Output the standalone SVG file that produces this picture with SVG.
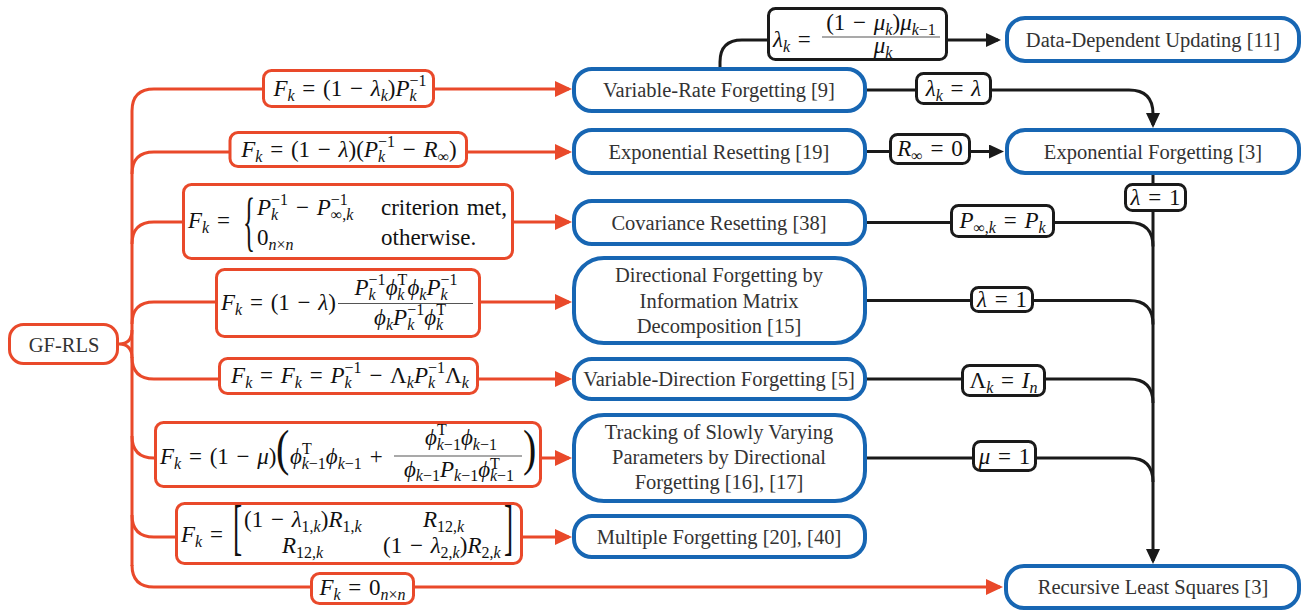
<svg xmlns="http://www.w3.org/2000/svg" width="1310" height="612" viewBox="0 0 1310 612">
<defs>
<style>
.bn{fill:#fff;stroke:#1766b3;stroke-width:4}
.on{fill:#fff;stroke:#e9492a;stroke-width:3}
.lb{fill:#fff;stroke:#1a1a1a;stroke-width:3}
.oc{fill:none;stroke:#e9492a;stroke-width:3}
.kc{fill:none;stroke:#1a1a1a;stroke-width:3}
.t{font-family:"Liberation Serif","DejaVu Serif",serif;font-size:20.5px;fill:#333;text-anchor:middle}
.m{font-family:"Liberation Serif","DejaVu Serif",serif;font-size:23px;fill:#111;word-spacing:2px}
.c{text-anchor:middle}
.i{font-style:italic}
.s{font-size:16px;word-spacing:0}
.bar{stroke:#555;stroke-width:1.2}
</style>
<marker id="ao" markerUnits="userSpaceOnUse" markerWidth="18" markerHeight="18" refX="14" refY="8" orient="auto"><path d="M0,0 L17,8 L0,16 z" fill="#e9492a"/></marker>
<marker id="ak" markerUnits="userSpaceOnUse" markerWidth="16" markerHeight="16" refX="12" refY="7" orient="auto"><path d="M0,0 L15,7 L0,14 z" fill="#1a1a1a"/></marker>
</defs>
<rect width="1310" height="612" fill="#fff"/>

<g id="connectors">
<path class="oc" d="M119 344 Q132 344 132 330 M119 344 Q132 344 132 358"/>
<path class="oc" d="M132 566 L132 111"/>
<path class="oc" d="M132 111 Q132 89 154 89 L569 89" marker-end="url(#ao)"/>
<path class="oc" d="M132 174 Q132 152 154 152 L569 152" marker-end="url(#ao)"/>
<path class="oc" d="M132 244 Q132 222 154 222 L569 222" marker-end="url(#ao)"/>
<path class="oc" d="M132 324 Q132 302 154 302 L569 302" marker-end="url(#ao)"/>
<path class="oc" d="M132 357 Q132 379 154 379 L569 379" marker-end="url(#ao)"/>
<path class="oc" d="M132 436 Q132 458 154 458 L569 458" marker-end="url(#ao)"/>
<path class="oc" d="M132 515 Q132 537 154 537 L569 537" marker-end="url(#ao)"/>
<path class="oc" d="M132 565 Q132 587 154 587 L1000 587" marker-end="url(#ao)"/>
<path class="kc" d="M720 67 L720 62 Q720 40 742 40 L998 40" marker-end="url(#ak)"/>
<path class="kc" d="M866 90 L1129 90 Q1153 90 1153 114 L1153 125" marker-end="url(#ak)"/>
<path class="kc" d="M866 151.5 L1001 151.5" marker-end="url(#ak)"/>
<path class="kc" d="M1153 175 L1153 561" marker-end="url(#ak)"/>
<path class="kc" d="M866 222.5 L1129 222.5 Q1153 222.5 1153 246.5"/>
<path class="kc" d="M866 300.5 L1129 300.5 Q1153 300.5 1153 324.5"/>
<path class="kc" d="M866 379 L1129 379 Q1153 379 1153 403"/>
<path class="kc" d="M866 458 L1129 458 Q1153 458 1153 482"/>
</g>

<g id="gf-rls"><rect class="on" x="9.5" y="324.5" width="108" height="39" rx="14"/><text class="t" x="64" y="352">GF-RLS</text></g>

<g id="variable-rate"><rect class="bn" x="574" y="69" width="291" height="42" rx="18"/><text class="t" x="719" y="97">Variable-Rate Forgetting [9]</text></g>
<g id="exp-resetting"><rect class="bn" x="574" y="130" width="291" height="43" rx="18"/><text class="t" x="719" y="158.5">Exponential Resetting [19]</text></g>
<g id="cov-resetting"><rect class="bn" x="574" y="201" width="291" height="43" rx="18"/><text class="t" x="719" y="229.5">Covariance Resetting [38]</text></g>
<g id="directional"><rect class="bn" x="574" y="258" width="291" height="85" rx="30"/><text class="t" x="719" y="282">Directional Forgetting by</text><text class="t" x="719" y="307.5">Information Matrix</text><text class="t" x="719" y="333">Decomposition [15]</text></g>
<g id="variable-direction"><rect class="bn" x="574" y="359" width="291" height="40" rx="18"/><text class="t" x="719" y="386">Variable-Direction Forgetting [5]</text></g>
<g id="tracking"><rect class="bn" x="574" y="415" width="291" height="86" rx="30"/><text class="t" x="719" y="439">Tracking of Slowly Varying</text><text class="t" x="719" y="464">Parameters by Directional</text><text class="t" x="719" y="489">Forgetting [16], [17]</text></g>
<g id="multiple"><rect class="bn" x="574" y="516" width="291" height="41" rx="18"/><text class="t" x="719" y="543.5">Multiple Forgetting [20], [40]</text></g>
<g id="data-dependent"><rect class="bn" x="1007" y="18" width="292" height="43" rx="18"/><text class="t" x="1153" y="46.5">Data-Dependent Updating [11]</text></g>
<g id="exp-forgetting"><rect class="bn" x="1007" y="130" width="292" height="43" rx="18"/><text class="t" x="1153" y="158.5">Exponential Forgetting [3]</text></g>
<g id="rls"><rect class="bn" x="1006" y="566" width="293" height="42" rx="18"/><text class="t" x="1153" y="594">Recursive Least Squares [3]</text></g>

<g id="f-variable-rate"><rect class="on" x="263.5" y="70.5" width="170" height="36" rx="8"/>
<text class="m c" x="350" y="96"><tspan class="i">F</tspan><tspan class="s i" dy="5">k</tspan><tspan dy="-5"> = (1 − </tspan><tspan class="i">λ</tspan><tspan class="s i" dy="5">k</tspan><tspan dy="-5">)</tspan><tspan class="i">P</tspan><tspan class="s" dy="-10">−1</tspan><tspan class="s i" dx="-17" dy="15">k</tspan></text></g>

<g id="f-exp-resetting"><rect class="on" x="230" y="132.5" width="236.5" height="34" rx="8"/>
<text class="m c" x="349" y="157"><tspan class="i">F</tspan><tspan class="s i" dy="5">k</tspan><tspan dy="-5"> = (1 − </tspan><tspan class="i">λ</tspan><tspan>)(</tspan><tspan class="i">P</tspan><tspan class="s" dy="-10">−1</tspan><tspan class="s i" dx="-17" dy="15">k</tspan><tspan dx="10" dy="-5"> − </tspan><tspan class="i">R</tspan><tspan class="s" dy="5">∞</tspan><tspan dy="-5">)</tspan></text></g>

<g id="f-cov-resetting"><rect class="on" x="183.5" y="184.5" width="329" height="74" rx="8"/>
<text class="m" x="188" y="228"><tspan class="i">F</tspan><tspan class="s i" dy="5">k</tspan><tspan dy="-5"> =</tspan></text>
<text class="m" style="font-size:66px" transform="translate(243 243) scale(0.38 1)">{</text>
<text class="m" x="257" y="215"><tspan class="i">P</tspan><tspan class="s" dy="-10">−1</tspan><tspan class="s i" dx="-17" dy="15">k</tspan><tspan dx="10" dy="-5"> − </tspan><tspan class="i">P</tspan><tspan class="s" dy="-10">−1</tspan><tspan class="s" dx="-17" dy="15">∞,</tspan><tspan class="s i">k</tspan></text>
<text class="m" x="381" y="215">criterion met,</text>
<text class="m" x="257" y="245">0<tspan class="s i" dy="5">n</tspan><tspan class="s">×</tspan><tspan class="s i">n</tspan></text>
<text class="m" x="381" y="245">otherwise.</text></g>

<g id="f-directional"><rect class="on" x="216.5" y="269.5" width="263" height="67" rx="8"/>
<text class="m" x="221" y="310"><tspan class="i">F</tspan><tspan class="s i" dy="5">k</tspan><tspan dy="-5"> = (1 − </tspan><tspan class="i">λ</tspan><tspan>)</tspan></text>
<line class="bar" x1="338" y1="303.5" x2="473" y2="303.5"/>
<text class="m c" x="406" y="295"><tspan class="i">P</tspan><tspan class="s" dy="-10">−1</tspan><tspan class="s i" dx="-17" dy="15">k</tspan><tspan class="i" dx="10" dy="-5">ϕ</tspan><tspan class="s" dy="-10">T</tspan><tspan class="s i" dx="-10" dy="15">k</tspan><tspan class="i" dx="3" dy="-5">ϕ</tspan><tspan class="s i" dy="5">k</tspan><tspan class="i" dy="-5">P</tspan><tspan class="s" dy="-10">−1</tspan><tspan class="s i" dx="-17" dy="15">k</tspan></text>
<text class="m c" x="410" y="325"><tspan class="i">ϕ</tspan><tspan class="s i" dy="5">k</tspan><tspan class="i" dy="-5">P</tspan><tspan class="s" dy="-10">−1</tspan><tspan class="s i" dx="-17" dy="15">k</tspan><tspan class="i" dx="10" dy="-5">ϕ</tspan><tspan class="s" dy="-10">T</tspan><tspan class="s i" dx="-10" dy="15">k</tspan></text></g>

<g id="f-variable-direction"><rect class="on" x="219.5" y="358.5" width="258" height="35" rx="8"/>
<text class="m c" x="350" y="383"><tspan class="i">F</tspan><tspan class="s i" dy="5">k</tspan><tspan dy="-5"> = </tspan><tspan class="i">F</tspan><tspan class="s i" dy="5">k</tspan><tspan dy="-5"> = </tspan><tspan class="i">P</tspan><tspan class="s" dy="-10">−1</tspan><tspan class="s i" dx="-17" dy="15">k</tspan><tspan dx="10" dy="-5"> − Λ</tspan><tspan class="s i" dy="5">k</tspan><tspan class="i" dy="-5">P</tspan><tspan class="s" dy="-10">−1</tspan><tspan class="s i" dx="-17" dy="15">k</tspan><tspan dx="10" dy="-5">Λ</tspan><tspan class="s i" dy="5">k</tspan></text></g>

<g id="f-tracking"><rect class="on" x="155.5" y="422.5" width="385" height="64" rx="8"/>
<text class="m" x="160" y="464"><tspan class="i">F</tspan><tspan class="s i" dy="5">k</tspan><tspan dy="-5"> = (1 − </tspan><tspan class="i">μ</tspan><tspan>)</tspan></text>
<text class="m" style="font-size:50px" transform="translate(276 465) scale(0.8 1)">(</text>
<text class="m" x="290" y="464"><tspan class="i">ϕ</tspan><tspan class="s" dy="-10">T</tspan><tspan class="s" dx="-10" dy="15"><tspan class="i">k</tspan>−1</tspan><tspan class="i" dy="-5">ϕ</tspan><tspan class="s" dy="5"><tspan class="i">k</tspan>−1</tspan><tspan dy="-5"> +</tspan></text>
<line class="bar" x1="394" y1="456" x2="522" y2="456"/>
<text class="m c" x="461" y="445"><tspan class="i">ϕ</tspan><tspan class="s" dy="-10">T</tspan><tspan class="s" dx="-10" dy="15"><tspan class="i">k</tspan>−1</tspan><tspan class="i" dy="-5">ϕ</tspan><tspan class="s" dy="5"><tspan class="i">k</tspan>−1</tspan></text>
<text class="m c" x="459" y="477"><tspan class="i">ϕ</tspan><tspan class="s" dy="4"><tspan class="i">k</tspan>−1</tspan><tspan class="i" dy="-4">P</tspan><tspan class="s" dy="4"><tspan class="i">k</tspan>−1</tspan><tspan class="i" dy="-4">ϕ</tspan><tspan class="s" dy="-8">T</tspan><tspan class="s" dx="-10" dy="12"><tspan class="i">k</tspan>−1</tspan></text>
<text class="m" style="font-size:50px" transform="translate(523 465) scale(0.8 1)">)</text></g>

<g id="f-multiple"><rect class="on" x="176.5" y="503.5" width="345" height="60" rx="8"/>
<text class="m" x="181" y="542"><tspan class="i">F</tspan><tspan class="s i" dy="5">k</tspan><tspan dy="-5"> =</tspan></text>
<text class="m" style="font-size:61px" transform="translate(233 548) scale(0.45 1)">[</text>
<text class="m" x="244" y="527">(1 − <tspan class="i">λ</tspan><tspan class="s" dy="5">1,<tspan class="i">k</tspan></tspan><tspan dy="-5">)</tspan><tspan class="i">R</tspan><tspan class="s" dy="5">1,<tspan class="i">k</tspan></tspan></text>
<text class="m" x="423" y="527"><tspan class="i">R</tspan><tspan class="s" dy="5">12,<tspan class="i">k</tspan></tspan></text>
<text class="m" x="282" y="553"><tspan class="i">R</tspan><tspan class="s" dy="5">12,<tspan class="i">k</tspan></tspan></text>
<text class="m" x="383" y="553">(1 − <tspan class="i">λ</tspan><tspan class="s" dy="5">2,<tspan class="i">k</tspan></tspan><tspan dy="-5">)</tspan><tspan class="i">R</tspan><tspan class="s" dy="5">2,<tspan class="i">k</tspan></tspan></text>
<text class="m" style="font-size:61px" transform="translate(504 548) scale(0.45 1)">]</text></g>

<g id="f-rls"><rect class="on" x="311.5" y="573.5" width="102" height="30" rx="8"/>
<text class="m c" x="362.5" y="595"><tspan class="i">F</tspan><tspan class="s i" dy="5">k</tspan><tspan dy="-5"> = 0</tspan><tspan class="s i" dy="5">n</tspan><tspan class="s">×</tspan><tspan class="s i">n</tspan></text></g>

<g id="l-data-dependent"><rect class="lb" x="768.5" y="8.5" width="178" height="51" rx="7"/>
<text class="m" x="773" y="47"><tspan class="i">λ</tspan><tspan class="s i" dy="5">k</tspan><tspan dy="-5"> =</tspan></text>
<line class="bar" x1="822" y1="37" x2="940" y2="37"/>
<text class="m c" x="881" y="30">(1 − <tspan class="i">μ</tspan><tspan class="s i" dy="5">k</tspan><tspan dy="-5">)</tspan><tspan class="i">μ</tspan><tspan class="s" dy="5"><tspan class="i">k</tspan>−1</tspan></text>
<text class="m c" x="883" y="53"><tspan class="i">μ</tspan><tspan class="s i" dy="5">k</tspan></text></g>

<g id="l-const-rate"><rect class="lb" x="916.5" y="73.5" width="74" height="30" rx="7"/>
<text class="m c" x="953.5" y="96"><tspan class="i">λ</tspan><tspan class="s i" dy="5">k</tspan><tspan dy="-5"> = </tspan><tspan class="i">λ</tspan></text></g>
<g id="l-rinf"><rect class="lb" x="890.5" y="134.5" width="79" height="29" rx="7"/>
<text class="m c" x="930" y="156"><tspan class="i">R</tspan><tspan class="s" dy="5">∞</tspan><tspan dy="-5"> = 0</tspan></text></g>
<g id="l-lambda-top"><rect class="lb" x="1125.5" y="184.5" width="60" height="26" rx="7"/>
<text class="m c" x="1155.5" y="205"><tspan class="i">λ</tspan> = 1</text></g>
<g id="l-pinf"><rect class="lb" x="951.5" y="205.5" width="102" height="31" rx="7"/>
<text class="m c" x="1002.5" y="228"><tspan class="i">P</tspan><tspan class="s" dy="5">∞,<tspan class="i">k</tspan></tspan><tspan dy="-5"> = </tspan><tspan class="i">P</tspan><tspan class="s i" dy="5">k</tspan></text></g>
<g id="l-lambda-dir"><rect class="lb" x="971.5" y="287.5" width="61" height="24" rx="7"/>
<text class="m c" x="1002" y="307"><tspan class="i">λ</tspan> = 1</text></g>
<g id="l-Lambda"><rect class="lb" x="962.5" y="365.5" width="82" height="30" rx="7"/>
<text class="m c" x="1003.5" y="388">Λ<tspan class="s i" dy="5">k</tspan><tspan dy="-5"> = </tspan><tspan class="i">I</tspan><tspan class="s i" dy="5">n</tspan></text></g>
<g id="l-mu"><rect class="lb" x="973.5" y="441.5" width="62" height="29" rx="7"/>
<text class="m c" x="1004.5" y="464"><tspan class="i">μ</tspan> = 1</text></g>
</svg>
